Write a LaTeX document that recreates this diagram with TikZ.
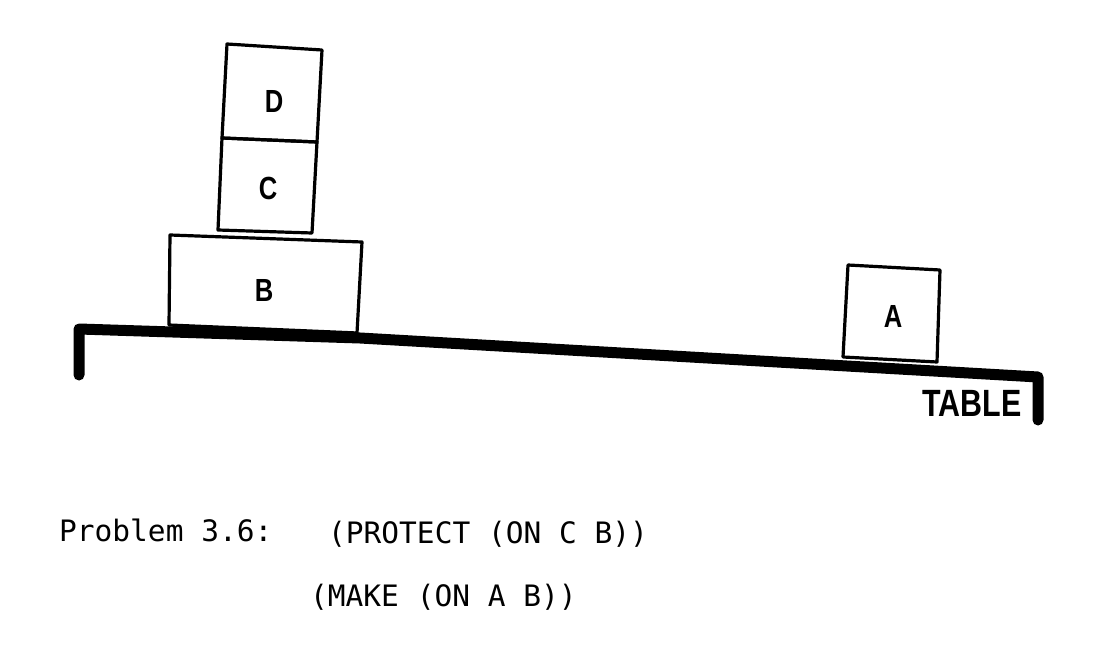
\documentclass[tikz,border=0pt]{standalone}
\usepackage{fontspec}
\newfontfamily\labfont[FakeStretch=0.8]{Liberation Sans Bold}
\newfontfamily\typefont{DejaVu Sans Mono}
\begin{document}
\begin{tikzpicture}[x=1pt,y=-1pt,
  blockline/.style={line width=3.2pt, line join=round},
  tableline/.style={line width=11pt, line join=round, line cap=round},
  blocklabel/.style={font=\labfont\fontsize{32}{32}\selectfont, inner sep=0pt},
  tablelabel/.style={font=\labfont\fontsize{38}{38}\selectfont, inner sep=0pt},
  typetext/.style={font=\typefont\fontsize{29.5}{30}\selectfont, inner sep=0pt, anchor=base west}]
\useasboundingbox (0,0) rectangle (1106,660);
% blocks
\draw[blockline] (170,235) -- (362,242) -- (357,333) -- (169,325) -- cycle;
\draw[blockline] (222,138) -- (317,142) -- (312,233) -- (218,230) -- cycle;
\draw[blockline] (227,44) -- (322,50) -- (317,142) -- (222,138) -- cycle;
\draw[blockline] (848,265) -- (940,270) -- (937,362) -- (843,357) -- cycle;
% table
\coordinate (legL) at (79,375);
\coordinate (cornL) at (79,329);
\coordinate (mid) at (360,338);
\coordinate (cornR) at (1038,377);
\coordinate (legR) at (1038,420);
\draw[tableline] (legL) -- (cornL) -- (mid) -- (cornR) -- (legR);
% labels
\node[blocklabel] (lD) at (274,101) {D};
\node[blocklabel] (lC) at (268,188) {C};
\node[blocklabel] (lB) at (264,290) {B};
\node[blocklabel] (lA) at (893,316) {A};
\node[tablelabel] (lT) at (972,403) {TABLE};
% caption
\node[typetext] (p1) at (59,541) {Problem 3.6:};
\node[typetext] (p2) at (328,543) {(PROTECT (ON C B))};
\node[typetext] (p3) at (310,606) {(MAKE (ON A B))};
\end{tikzpicture}
\end{document}
